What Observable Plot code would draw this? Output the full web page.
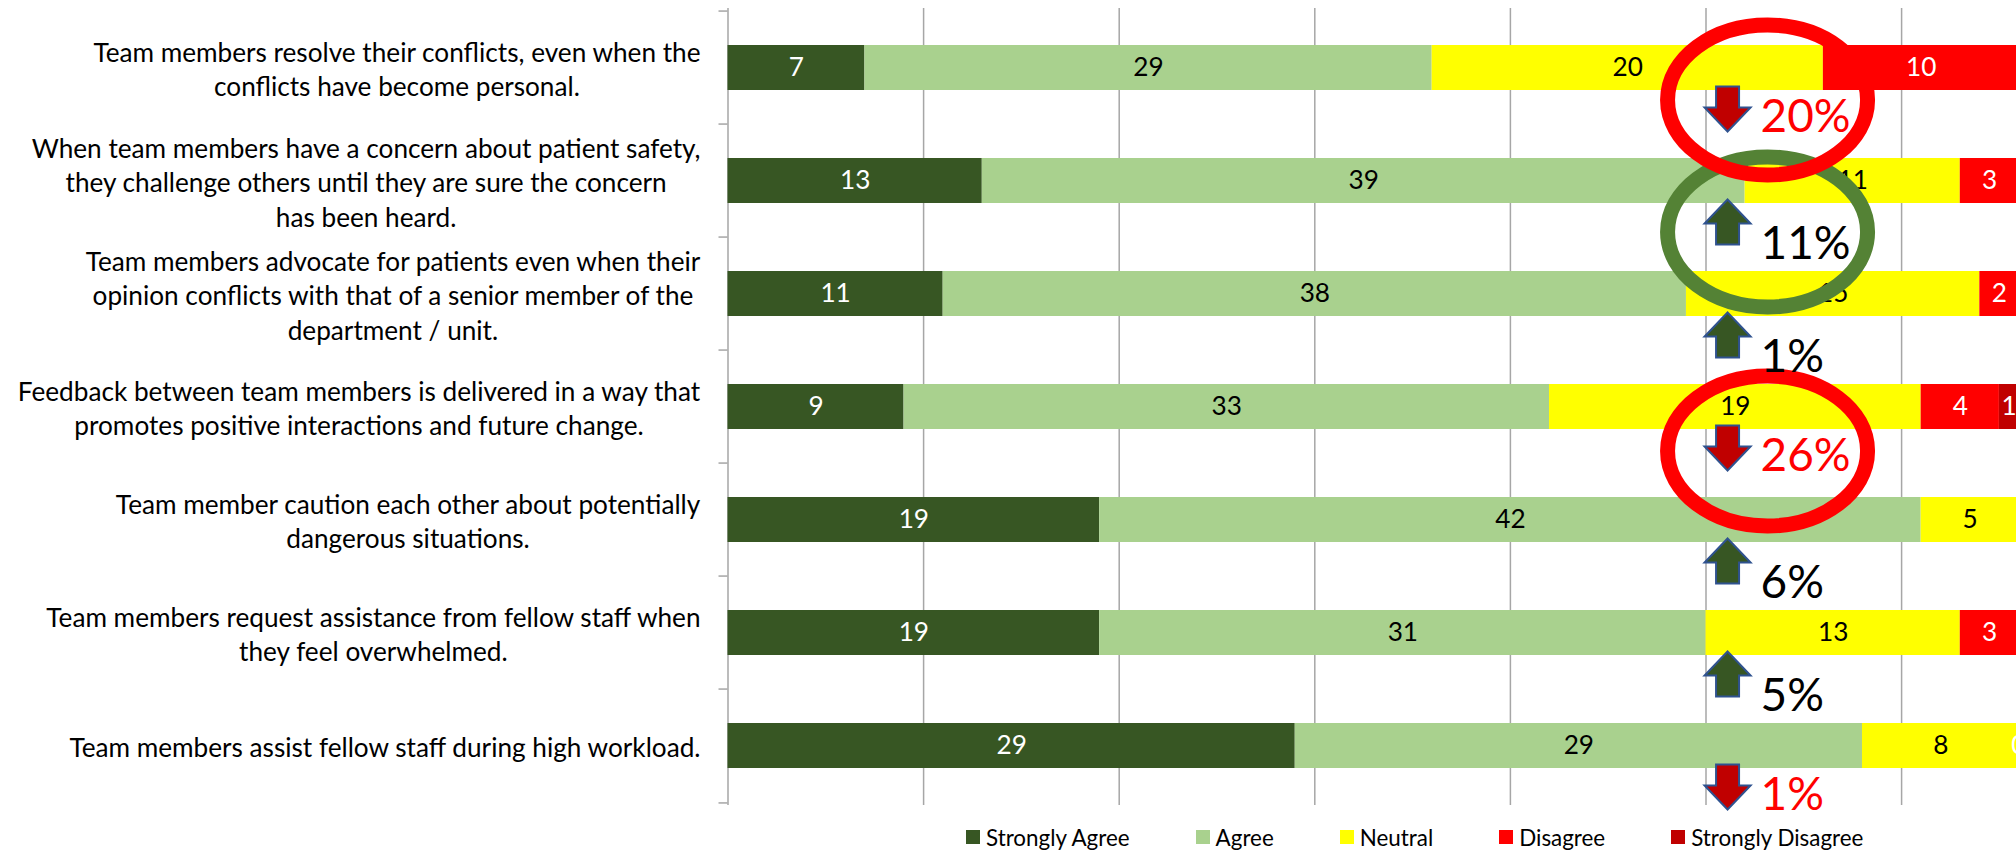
<!DOCTYPE html>
<html>
<head>
<meta charset="utf-8">
<script src="https://cdn.jsdelivr.net/npm/d3@7"></script>
<script src="https://cdn.jsdelivr.net/npm/@observablehq/plot@0.6"></script>
<style>
  html, body { margin: 0; padding: 0; background: #fff; overflow: hidden; }
  #chart { width: 2016px; height: 850px; position: relative; }
  #legend { height: 44px; padding-left: 966px; width: 2016px; box-sizing: border-box; overflow: visible; }
  .lg-swatches { font-family: Lato, sans-serif !important; color: #000 !important; margin: 0 !important; min-height: 44px !important; height: 44px; display: flex !important; align-items: center !important; flex-wrap: nowrap !important; width: max-content !important; }
  .lg-swatch { margin-right: 66px !important; display: inline-flex !important; align-items: center !important; flex-shrink: 0 !important; white-space: nowrap !important; }
  .lg-swatch > svg { margin-right: 6px !important; flex-shrink: 0; }
</style>
</head>
<body>
<div id="chart"></div>
<script>
// ---------- data ----------
const categories = [
  "Team members resolve their conflicts, even when the\nconflicts have become personal.",
  "When team members have a concern about patient safety,\nthey challenge others until they are sure the concern\nhas been heard.",
  "Team members advocate for patients even when their\nopinion conflicts with that of a senior member of the\ndepartment / unit.",
  "Feedback between team members is delivered in a way that\npromotes positive interactions and future change.",
  "Team member caution each other about potentially\ndangerous situations.",
  "Team members request assistance from fellow staff when\nthey feel overwhelmed.",
  "Team members assist fellow staff during high workload."
];
const seriesNames = ["Strongly Agree", "Agree", "Neutral", "Disagree", "Strongly Disagree"];
const seriesColors = ["#375623", "#A9D18E", "#FFFF00", "#FF0000", "#C00000"];
const stronglyAgree    = [7, 13, 11, 9, 19, 19, 29];
const agree            = [29, 39, 38, 33, 42, 31, 29];
const neutral          = [20, 11, 15, 19, 5, 13, 8];
const disagree         = [10, 3, 2, 4, null, 3, 0];
const stronglyDisagree = [null, null, null, 1, null, null, null];
const gridTicks = [10, 20, 30, 40, 50, 60];
const changeDirection = ["down", "up", "up", "down", "up", "up", "down"];
const changeLabels = ["20%", "11%", "1%", "26%", "6%", "5%", "1%"];
const highlightRows = [1, 0, 3];          // rows whose change is circled (drawn in this order)
const highlightColors = ["#548235", "#FF0000", "#FF0000"];
const changeMarkerX = 51;                  // x value where the change arrows sit

// ---------- layout / style ----------
const W = 2016, H = 815;
const mLeft = 727.5, mTop = 8, mBottom = 10;
const pxPerUnit = 19.56;
const xMax = (W - mLeft) / pxPerUnit;
const rowStep = (H - mTop - mBottom) / categories.length;
const gray = "#A6A6A6";
const ellipseDy = [51, 32, 44];

// font fit: Lato sized to match the widths of the original (Calibri) texts
const cv = document.createElement("canvas").getContext("2d");
cv.font = "100px Lato";
const fitSize = (str, target) => target / cv.measureText(str).width * 100;
const labelSize = fitSize("When team members have a concern about patient safety,", 669);
const valueSize = labelSize;
const legendSize = fitSize("Strongly Agree", 145);
const pctSize = fitSize("20%", 90);

// ---------- long data ----------
const seriesValues = [stronglyAgree, agree, neutral, disagree, stronglyDisagree];
const rows = [];
categories.forEach((c, i) => seriesValues.forEach((vals, s) => {
  if (vals[i] != null) rows.push({category: c, series: seriesNames[s], value: vals[i]});
}));
const whiteText = new Set(["Strongly Agree", "Disagree", "Strongly Disagree"]);

const changes = categories.map((c, i) => ({category: c, dir: changeDirection[i], label: changeLabels[i], x: changeMarkerX}));

// ---------- symbols ----------
function ellipseSymbol(rx, ry) {
  return {draw(ctx) {
    const kx = rx * 0.5523, ky = ry * 0.5523;
    ctx.moveTo(rx, 0);
    ctx.bezierCurveTo(rx, ky, kx, ry, 0, ry);
    ctx.bezierCurveTo(-kx, ry, -rx, ky, -rx, 0);
    ctx.bezierCurveTo(-rx, -ky, -kx, -ry, 0, -ry);
    ctx.bezierCurveTo(kx, -ry, rx, -ky, rx, 0);
    ctx.closePath();
  }};
}
function arrowSymbol(up) {
  const s = up ? -1 : 1, hw = 23, sw = 11.5, h = 22.5, hb = -1.5;
  return {draw(ctx) {
    ctx.moveTo(-sw, -h * s);
    ctx.lineTo(sw, -h * s);
    ctx.lineTo(sw, hb * s);
    ctx.lineTo(hw, hb * s);
    ctx.lineTo(0, h * s);
    ctx.lineTo(-hw, hb * s);
    ctx.lineTo(-sw, hb * s);
    ctx.closePath();
  }};
}

const ellipseMarks = highlightRows.map((r, j) =>
  Plot.dot([changes[r]], {x: "x", y: "category", symbol: ellipseSymbol(100, 75), r: 10,
    fill: "none", stroke: highlightColors[j], strokeWidth: 15, dx: 42, dy: ellipseDy[j]}));

const svg = Plot.plot({
  width: W, height: H,
  marginLeft: mLeft, marginRight: 0, marginTop: mTop, marginBottom: mBottom,
  style: {fontFamily: "Lato, sans-serif", overflow: "hidden", background: "white", color: "#000"},
  x: {domain: [0, xMax], axis: null},
  y: {domain: categories, axis: null, paddingInner: 0.6, paddingOuter: 0.3},
  color: {domain: seriesNames, range: seriesColors},
  marks: [
    Plot.ruleX(gridTicks, {stroke: gray, strokeWidth: 1.5}),
    Plot.ruleX([0], {stroke: gray, strokeWidth: 1.5}),
    Plot.ruleY(categories, {y: d => d, x1: 0, x2: 0, insetLeft: -9, dy: -rowStep / 2, stroke: gray, strokeWidth: 1.5}),
    Plot.ruleY(categories.slice(-1), {y: d => d, x1: 0, x2: 0, insetLeft: -9, dy: rowStep / 2, stroke: gray, strokeWidth: 1.5}),
    Plot.barX(rows, Plot.stackX({x: "value", y: "category", fill: "series"})),
    Plot.text(rows, Plot.stackX({x: "value", y: "category",
      text: d => whiteText.has(d.series) ? String(d.value) : "", fill: "white", fontSize: valueSize})),
    Plot.text(rows, Plot.stackX({x: "value", y: "category",
      text: d => whiteText.has(d.series) ? "" : String(d.value), fill: "black", fontSize: valueSize})),
    ...ellipseMarks,
    Plot.dot(changes.filter(d => d.dir === "up"), {x: "x", y: "category", symbol: arrowSymbol(true), r: 10,
      fill: "#375623", stroke: "#2F528F", strokeWidth: 2, dx: 2, dy: 41}),
    Plot.dot(changes.filter(d => d.dir === "down"), {x: "x", y: "category", symbol: arrowSymbol(false), r: 10,
      fill: "#C00000", stroke: "#2F528F", strokeWidth: 2, dx: 2, dy: 41}),
    Plot.text(changes.filter(d => d.dir === "down"), {x: "x", y: "category", text: "label",
      fill: "#FF0000", fontSize: pctSize, textAnchor: "start", lineAnchor: "bottom", dx: 35, dy: 64}),
    Plot.text(changes.filter(d => d.dir === "up"), {x: "x", y: "category", text: "label",
      fill: "#000000", fontSize: pctSize, textAnchor: "start", lineAnchor: "bottom", dx: 35, dy: 78}),
    Plot.text(categories, {y: d => d, text: d => d, frameAnchor: "left", textAnchor: "end",
      dx: -27.5, fontSize: labelSize, lineHeight: 34.5 / labelSize, fill: "#000"})
  ]
});

const chart = document.getElementById("chart");
chart.appendChild(svg);

// center each line of a category label within its right-aligned block (as in the original)
const flatCats = new Set(categories.map(c => c.replace(/\n/g, "")));
d3.select(svg).selectAll("text").each(function() {
  if (!flatCats.has(this.textContent)) return;
  const w = this.getBBox().width;
  this.setAttribute("text-anchor", "middle");
  this.setAttribute("transform", (this.getAttribute("transform") || "") + ` translate(${-w / 2},0)`);
});

const legendWrap = document.createElement("div");
legendWrap.id = "legend";
const legend = Plot.legend({color: {domain: seriesNames, range: seriesColors}, swatchSize: 14, className: "lg"});
legend.style.fontSize = legendSize + "px";
legendWrap.appendChild(legend);
chart.appendChild(legendWrap);
</script>
</body>
</html>
